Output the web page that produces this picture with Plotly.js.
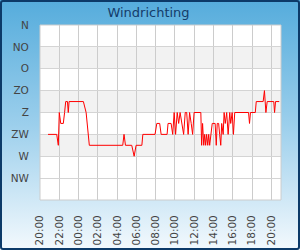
<!DOCTYPE html>
<html><head><meta charset="utf-8">
<script src="https://cdn.plot.ly/plotly-3.0.1.min.js"></script>
<style>
html,body{margin:0;padding:0;}
#wrap{position:relative;width:300px;height:250px;background:linear-gradient(to bottom,#55acdc 0%,#9ccfec 50%,#f3f9fd 100%);}
#chart{position:absolute;left:0;top:0;width:300px;height:250px;}
#frame{position:absolute;left:0;top:0;width:300px;height:250px;box-sizing:border-box;border:2px solid #0c3a68;border-radius:3px;pointer-events:none;}
</style></head>
<body><div id="wrap"><div id="chart"></div><div id="frame"></div></div>
<script>
const title = "Windrichting";
const dirLabels = ["N","NO","O","ZO","Z","ZW","W","NW"];
const dirDegrees = [0,45,90,135,180,225,270,315];
const tickTimes = ["2024-01-01 20:00","2024-01-01 22:00","2024-01-02 00:00","2024-01-02 02:00","2024-01-02 04:00","2024-01-02 06:00","2024-01-02 08:00","2024-01-02 10:00","2024-01-02 12:00","2024-01-02 14:00","2024-01-02 16:00","2024-01-02 18:00","2024-01-02 20:00"];
const times = [
"2024-01-01 20:50","2024-01-01 21:44","2024-01-01 21:54","2024-01-01 22:00","2024-01-01 22:09","2024-01-01 22:25","2024-01-01 22:33","2024-01-01 22:40","2024-01-01 22:51","2024-01-01 22:56","2024-01-01 23:01",
"2024-01-02 00:30","2024-01-02 00:47","2024-01-02 01:01","2024-01-02 01:07","2024-01-02 04:35","2024-01-02 04:43","2024-01-02 04:52","2024-01-02 05:31","2024-01-02 05:46","2024-01-02 05:58","2024-01-02 06:34","2024-01-02 06:40","2024-01-02 07:56","2024-01-02 08:07","2024-01-02 08:25","2024-01-02 08:34",
"2024-01-02 09:11","2024-01-02 09:17","2024-01-02 09:36","2024-01-02 09:46","2024-01-02 09:55","2024-01-02 10:04","2024-01-02 10:14","2024-01-02 10:23","2024-01-02 10:32","2024-01-02 10:45","2024-01-02 10:54","2024-01-02 11:04","2024-01-02 11:13","2024-01-02 11:22","2024-01-02 11:31","2024-01-02 11:41","2024-01-02 11:50","2024-01-02 11:59","2024-01-02 12:12",
"2024-01-02 12:41","2024-01-02 12:46","2024-01-02 12:52","2024-01-02 12:59","2024-01-02 13:05","2024-01-02 13:11","2024-01-02 13:17","2024-01-02 13:24","2024-01-02 13:30","2024-01-02 13:36","2024-01-02 13:45","2024-01-02 13:52","2024-01-02 14:10","2024-01-02 14:17","2024-01-02 14:23","2024-01-02 14:32","2024-01-02 14:38","2024-01-02 14:45","2024-01-02 14:51",
"2024-01-02 15:00","2024-01-02 15:06","2024-01-02 15:13","2024-01-02 15:22","2024-01-02 15:31","2024-01-02 15:41","2024-01-02 15:47","2024-01-02 15:56","2024-01-02 16:04","2024-01-02 16:12","2024-01-02 17:38","2024-01-02 17:44","2024-01-02 17:50","2024-01-02 18:20","2024-01-02 18:26","2024-01-02 19:09","2024-01-02 19:17","2024-01-02 19:26","2024-01-02 19:34","2024-01-02 20:15","2024-01-02 20:20","2024-01-02 20:26","2024-01-02 20:49"];
const directions = [
225,225,247.5,180,202.5,202.5,180,157.5,157.5,180,157.5,
157.5,180,225,247.5,247.5,225,247.5,247.5,270,247.5,247.5,225,225,202.5,202.5,225,
225,202.5,202.5,225,180,225,180,202.5,180,202.5,225,180,180,225,180,202.5,225,180,180,
180,247.5,202.5,247.5,225,247.5,225,247.5,225,247.5,225,202.5,202.5,247.5,202.5,202.5,225,247.5,202.5,
225,180,202.5,180,225,180,202.5,180,225,180,180,202.5,180,180,157.5,157.5,135,180,157.5,157.5,180,157.5,157.5];

const bandPairs = [[45,90],[135,180],[225,270]];
const shapes = bandPairs.map(b => ({type:'rect',xref:'paper',yref:'y',x0:0,x1:1,y0:b[0],y1:b[1],fillcolor:'#f2f2f2',line:{width:0},layer:'below'}));
shapes.push({type:'rect',xref:'paper',yref:'paper',x0:0,x1:1,y0:0,y1:1,line:{color:'#cccccc',width:1},layer:'above'});

Plotly.newPlot('chart',[{
  x: times, y: directions, type:'scatter', mode:'lines',
  line:{color:'#ff0000',width:1}, hoverinfo:'skip'
}],{
  width:300,height:250,
  margin:{l:40,r:19,t:25,b:50,pad:0},
  paper_bgcolor:'rgba(0,0,0,0)', plot_bgcolor:'#ffffff',
  showlegend:false,
  title:{text:title,font:{family:'DejaVu Sans',size:13,color:'#143c6a'},x:0.495,xanchor:'center',y:0.952,yanchor:'middle'},
  font:{family:'DejaVu Sans',size:10.5,color:'#444444'},
  xaxis:{type:'date',range:['2024-01-01 20:00','2024-01-02 21:00'],tickvals:tickTimes,tickformat:'%H:%M',tickangle:-90,
    showgrid:true,gridcolor:'#cccccc',gridwidth:1,zeroline:false,showline:false,ticks:'outside',ticklen:10,tickcolor:'rgba(0,0,0,0)',
    tickfont:{family:'DejaVu Sans',size:10.5,color:'#444444'}},
  yaxis:{range:[360,0],tickvals:dirDegrees,ticktext:dirLabels,showgrid:true,gridcolor:'#d4d4d4',gridwidth:1,zeroline:false,showline:false,
    ticks:'outside',ticklen:8,tickcolor:'rgba(0,0,0,0)',tickfont:{family:'DejaVu Sans',size:10.5,color:'#444444'}},
  shapes:shapes
},{displayModeBar:false,staticPlot:true});
</script></body></html>
